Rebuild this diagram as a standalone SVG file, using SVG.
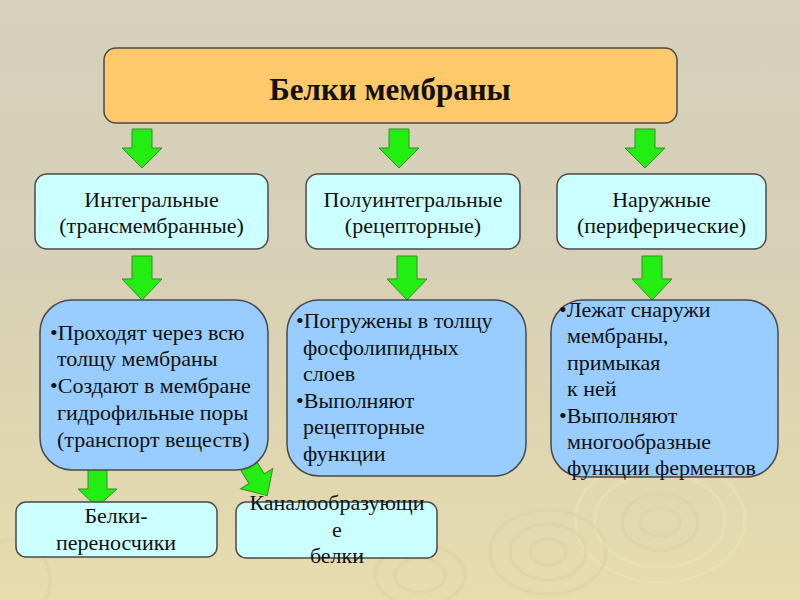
<svg xmlns="http://www.w3.org/2000/svg" width="800" height="600" viewBox="0 0 800 600">
<defs>
<linearGradient id="bg" x1="0" y1="0" x2="0" y2="1">
<stop offset="0" stop-color="#d6d0bc"/>
<stop offset="0.45" stop-color="#d8d0b6"/>
<stop offset="1" stop-color="#e6dcad"/>
</linearGradient>
<style>
text{font-family:'Liberation Serif','Times New Roman','DejaVu Serif',serif;fill:#111;}
.title{font-size:31px;font-weight:bold;text-anchor:middle;}
.cat{font-size:22px;text-anchor:middle;}
.body{font-size:22px;}
.leaf{font-size:22px;text-anchor:middle;}
.box{stroke:#4a4a4a;stroke-width:1.5;}
.orange{fill:#fec96a;}
.cyan{fill:#ccffff;}
.blue{fill:#99ccff;}
.arrow{fill:#22ee11;stroke:#3a8a2a;stroke-width:1;stroke-linejoin:miter;}
.ring{fill:none;stroke:#ebe2b2;stroke-width:3;opacity:0.6;}
.ringd{fill:none;stroke:#d9cfa3;stroke-width:3;opacity:0.5;}
</style>
</defs>
<rect x="0" y="0" width="800" height="600" fill="url(#bg)"/>
<g id="decor">
<ellipse class="ring" cx="660" cy="520" rx="85" ry="62"/>
<ellipse class="ring" cx="660" cy="520" rx="65" ry="47"/>
<ellipse class="ringd" cx="660" cy="522" rx="38" ry="28"/>
<ellipse class="ringd" cx="660" cy="522" rx="20" ry="14"/>
<ellipse class="ringd" cx="548" cy="552" rx="58" ry="42"/>
<ellipse class="ringd" cx="548" cy="552" rx="38" ry="28"/>
<ellipse class="ringd" cx="548" cy="552" rx="18" ry="13"/>
<ellipse class="ringd" cx="420" cy="575" rx="45" ry="30"/>
<ellipse class="ringd" cx="420" cy="575" rx="25" ry="17"/>
<ellipse class="ringd" cx="10" cy="580" rx="40" ry="40"/>
</g>
<g id="connectors">
<path class="arrow" d="M132,129 H152 V148 H162 L142,168 L122,148 H132 Z"/>
<path class="arrow" d="M389,129 H409 V148 H419 L399,168 L379,148 H389 Z"/>
<path class="arrow" d="M635,129 H655 V148 H665 L645,168 L625,148 H635 Z"/>
<path class="arrow" d="M132,256 H152 V279 H162 L142,300 L122,279 H132 Z"/>
<path class="arrow" d="M397,256 H417 V279 H427 L407,300 L387,279 H397 Z"/>
<path class="arrow" d="M642,256 H662 V279 H672 L652,300 L632,279 H642 Z"/>
<path class="arrow" d="M88,463 H107 V489 H117 L97,507 L78,489 H88 Z"/>
<path class="arrow" transform="translate(245,460) rotate(-32)" d="M-9,0 H9 V22 H19 L0,42 L-19,22 H-9 Z"/>
</g>
<g id="root">
<rect class="box orange" x="104" y="48" width="573" height="75" rx="12"/>
<text class="title" x="390" y="100">Белки мембраны</text>
</g>
<g id="integral">
<rect class="box cyan" x="35" y="174" width="233" height="75" rx="12"/>
<text class="cat" x="151.5" y="207">Интегральные</text>
<text class="cat" x="151.5" y="233">(трансмембранные)</text>
</g>
<g id="semiintegral">
<rect class="box cyan" x="306" y="174" width="214" height="75" rx="12"/>
<text class="cat" x="413" y="207">Полуинтегральные</text>
<text class="cat" x="413" y="233">(рецепторные)</text>
</g>
<g id="peripheral">
<rect class="box cyan" x="557" y="174" width="209" height="75" rx="12"/>
<text class="cat" x="661.5" y="207">Наружные</text>
<text class="cat" x="661.5" y="233">(периферические)</text>
</g>
<g id="integral-desc">
<rect class="box blue" x="40" y="300" width="228" height="170" rx="32"/>
<text class="body">
<tspan x="50" y="340">•Проходят через всю</tspan>
<tspan x="57" y="366">толщу мембраны</tspan>
<tspan x="50" y="393">•Создают в мембране</tspan>
<tspan x="57" y="420">гидрофильные поры</tspan>
<tspan x="57" y="447">(транспорт веществ)</tspan>
</text>
</g>
<g id="semiintegral-desc">
<rect class="box blue" x="287" y="300" width="239" height="176" rx="32"/>
<text class="body">
<tspan x="296" y="328">•Погружены в толщу</tspan>
<tspan x="303" y="355">фосфолипидных</tspan>
<tspan x="303" y="381">слоев</tspan>
<tspan x="296" y="408">•Выполняют</tspan>
<tspan x="303" y="434">рецепторные</tspan>
<tspan x="303" y="461">функции</tspan>
</text>
</g>
<g id="peripheral-desc">
<rect class="box blue" x="551" y="300" width="227" height="177" rx="32"/>
<text class="body">
<tspan x="559" y="317">•Лежат снаружи</tspan>
<tspan x="567" y="343">мембраны,</tspan>
<tspan x="567" y="370">примыкая</tspan>
<tspan x="567" y="396">к ней</tspan>
<tspan x="559" y="423">•Выполняют</tspan>
<tspan x="567" y="449">многообразные</tspan>
<tspan x="567" y="475">функции ферментов</tspan>
</text>
</g>
<g id="carriers">
<rect class="box cyan" x="16" y="502" width="201" height="55" rx="10"/>
<text class="leaf" x="116" y="523">Белки-</text>
<text class="leaf" x="116" y="550">переносчики</text>
</g>
<g id="channels">
<rect class="box cyan" x="236" y="502" width="201" height="56" rx="10"/>
<text class="leaf" x="337" y="510">Каналообразующи</text>
<text class="leaf" x="337" y="537">е</text>
<text class="leaf" x="337" y="563">белки</text>
</g>
</svg>
